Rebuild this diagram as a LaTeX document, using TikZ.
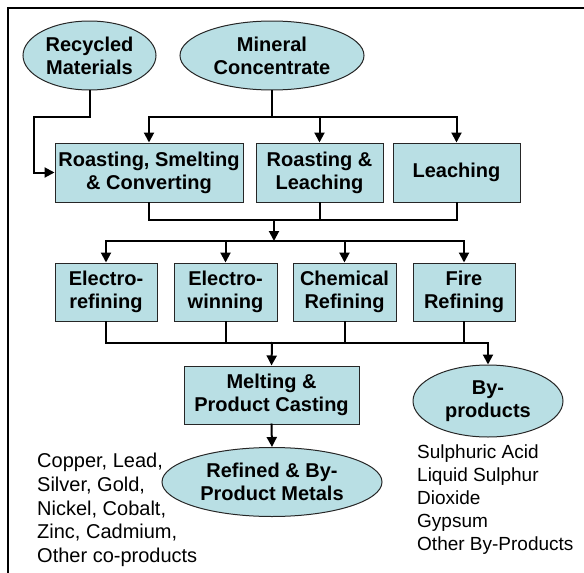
\documentclass[tikz,border=0pt]{standalone}
\usepackage{fontspec}
\setmainfont{Liberation Sans}
\usepackage{tikz}
\usetikzlibrary{arrows.meta,positioning,shapes.geometric,calc}
\definecolor{boxfill}{RGB}{185,223,228}

\begin{document}
\begin{tikzpicture}[x=1pt,y=-1pt,>={Triangle[length=10pt,width=10pt]},
   conn/.style={line width=2pt,line cap=rect},
   proc/.style={draw=black!85,line width=1pt,fill=boxfill,rectangle,inner sep=0pt,
     align=center,font=\bfseries\fontsize{20}{23}\selectfont},
   src/.style={proc,ellipse},
   note/.style={align=left,inner sep=0pt,font=\fontsize{20}{23.75}\selectfont}]
  \useasboundingbox (0,0) rectangle (584,573);
  \draw[line width=2pt] (8,573) -- (8,8) -- (584,8);
  % sources
  \node[src, minimum width=133pt, minimum height=69pt] (rm) at (89.5,55.5) {Recycled\\Materials};
  \node[src, minimum width=184pt, minimum height=69pt] (mc) at (272,55.5) {Mineral\\Concentrate};
  % primary processes
  \node[proc, minimum width=188pt, minimum height=59pt] (rsc) at (149,172.5) {Roasting, Smelting\\\& Converting};
  \node[proc, minimum width=127pt, minimum height=59pt] (rl) at (319.5,172.5) {Roasting \&\\Leaching};
  \node[proc, minimum width=127pt, minimum height=59pt] (lch) at (456.5,172.5) {Leaching};
  % refining
  \node[proc, minimum width=102pt, minimum height=58pt] (er) at (106,292) {Electro-\\refining};
  \node[proc, minimum width=103pt, minimum height=58pt] (ew) at (225.5,292) {Electro-\\winning};
  \node[proc, minimum width=103pt, minimum height=58pt] (cr) at (344.5,292) {Chemical\\Refining};
  \node[proc, minimum width=102pt, minimum height=58pt] (fr) at (464,292) {Fire\\Refining};
  % outputs
  \node[proc, minimum width=175pt, minimum height=58pt] (mpc) at (271.5,395) {Melting \&\\Product Casting};
  \node[src, minimum width=150pt, minimum height=72pt] (bp) at (488,401) {By-\\products};
  \node[src, minimum width=220pt, minimum height=69pt] (rbm) at (272,482) {Refined \& By-\\Product Metals};
  \node[note, anchor=west] (metals) at (37,510) {Copper, Lead,\\Silver, Gold,\\Nickel, Cobalt,\\Zinc, Cadmium,\\Other co-products};
  \node[note, anchor=west, font=\fontsize{19}{23}\selectfont] (bplist) at (417,500) {Sulphuric Acid\\Liquid Sulphur\\Dioxide\\Gypsum\\Other By-Products};
  % connectors
  \coordinate (rmbend) at (34,117);
  \coordinate (split1) at (272,117);
  \coordinate (join1) at (274,220);
  \coordinate (split2) at (274,241);
  \coordinate (join2) at (272,343);
  \draw[conn] (rm.south) |- (rmbend);
  \draw[conn,->] (rmbend) |- (rsc.west);
  \draw[conn] (mc.south) -- (split1);
  \draw[conn,->] (split1) -| (rsc.north);
  \draw[conn,->] (split1) -| (rl.north);
  \draw[conn,->] (split1) -| (lch.north);
  \draw[conn] (rsc.south) |- (join1);
  \draw[conn] (rl.south) |- (join1);
  \draw[conn] (lch.south) |- (join1);
  \draw[conn,->] (join1) -- (split2);
  \draw[conn,->] (split2) -| (er.north);
  \draw[conn,->] (split2) -| (ew.north);
  \draw[conn,->] (split2) -| (cr.north);
  \draw[conn,->] (split2) -| (fr.north);
  \draw[conn] (er.south) |- (join2);
  \draw[conn] (ew.south) |- (join2);
  \draw[conn] (cr.south) |- (join2);
  \draw[conn] (fr.south) |- (join2);
  \draw[conn,->] (join2) -- (mpc.north);
  \draw[conn,->] (join2) -| (bp.north);
  \draw[conn,->] (mpc.south) -- (rbm.north);
\end{tikzpicture}
\end{document}
